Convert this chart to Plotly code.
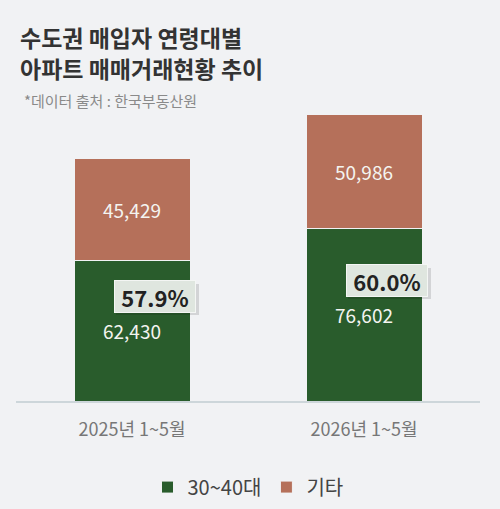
import plotly.graph_objects as go

periods = ["2025년 1~5월", "2026년 1~5월"]
age_3040 = [62430, 76602]
others = [45429, 50986]

shares = [a / (a + b) * 100 for a, b in zip(age_3040, others)]

green = "#295c2c"
orange = "#b5705a"
bg = "#f1f2f4"
font = "Noto Sans CJK KR"

fig = go.Figure()
fig.add_trace(go.Bar(x=periods, y=age_3040, name="30~40대",
                     marker=dict(color=green, line=dict(color=bg, width=1)),
                     text=[f"{v:,}" for v in age_3040], textposition="inside",
                     insidetextanchor="middle",
                     textfont=dict(color="#f4f4f0", size=19, family=font)))
fig.add_trace(go.Bar(x=periods, y=others, name="기타",
                     marker=dict(color=orange, line=dict(color=bg, width=1)),
                     text=[f"{v:,}" for v in others], textposition="inside",
                     insidetextanchor="middle",
                     textfont=dict(color="#f4f4f0", size=19, family=font)))

# share badges (with a soft shadow)
for i, (g, s) in enumerate(zip(age_3040, shares)):
    fig.add_shape(type="rect", xref="x", yref="y", xsizemode="pixel", ysizemode="pixel",
                  xanchor=i, yanchor=g / 2, x0=-16, x1=67, y0=16, y1=47,
                  fillcolor="rgba(0,0,0,0.12)", line=dict(width=0), layer="above")
    fig.add_annotation(x=periods[i], y=g / 2, xshift=23, yshift=34, text=f"<b>{s:.1f}%</b>",
                       showarrow=False, font=dict(size=22, color="#222222", family=font),
                       width=72, height=23, align="center",
                       bgcolor="#dfe6df", bordercolor="#f4f6f4", borderwidth=1, borderpad=4)

fig.add_annotation(xref="paper", yref="paper", x=0.004, y=1.0, yshift=63,
                   xanchor="left", yanchor="middle", showarrow=False,
                   text="<b>수도권 매입자 연령대별</b>",
                   font=dict(size=23, color="#333333", family=font))
fig.add_annotation(xref="paper", yref="paper", x=0.004, y=1.0, yshift=32,
                   xanchor="left", yanchor="middle", showarrow=False,
                   text="<b>아파트 매매거래현황 추이</b>",
                   font=dict(size=23, color="#333333", family=font))
fig.add_annotation(xref="paper", yref="paper", x=0.013, y=1.0, yshift=0,
                   xanchor="left", yanchor="middle", showarrow=False,
                   text="*데이터 출처 : 한국부동산원",
                   font=dict(size=15, color="#8a8a8a", family=font))

fig.update_layout(
    width=500, height=509,
    barmode="stack", bargap=0.5,
    paper_bgcolor=bg, plot_bgcolor=bg,
    margin=dict(l=16, r=20, t=100, b=108, autoexpand=False),
    font=dict(family=font),
    showlegend=True,
    legend=dict(orientation="h", x=0.5, xanchor="center", y=-0.286, yanchor="middle",
                font=dict(size=20, color="#444444", family=font), traceorder="normal",
                itemwidth=30),
)
fig.update_xaxes(showline=True, linecolor="#cdd6da", linewidth=1.5, ticks="",
                 tickfont=dict(size=18, color="#777777", family=font), ticklabelstandoff=12)
fig.update_yaxes(range=[0, 134000], visible=False, showgrid=False)

fig.write_html("out.html", config={"displayModeBar": False},
               post_script="document.body.style.margin='0';"
                           "document.body.style.background='#f1f2f4';")
